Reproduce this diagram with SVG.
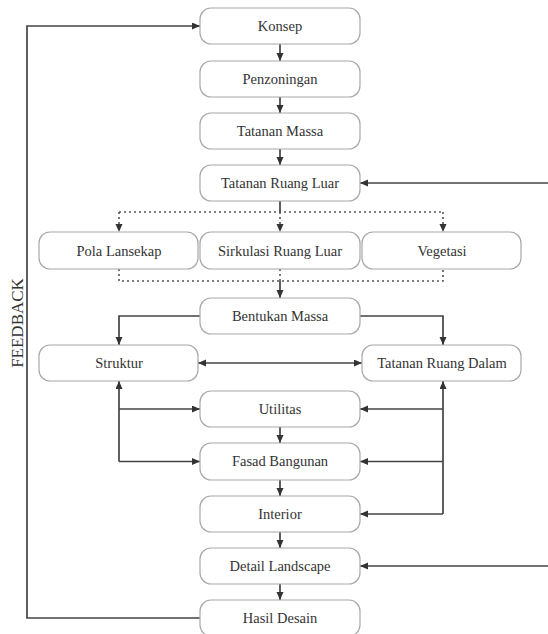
<svg xmlns="http://www.w3.org/2000/svg" width="548" height="634" viewBox="0 0 548 634">
<style>
.box{fill:#fff;stroke:#a8a8a8;stroke-width:1.2}
.lbl{font-family:"Liberation Serif","Times New Roman",serif;font-size:14.5px;fill:#333;text-anchor:middle}
.ln{fill:none;stroke:#444;stroke-width:1.7}
.dt{fill:none;stroke:#555;stroke-width:1.6;stroke-dasharray:2 3}
</style>
<defs>
<marker id="ah" markerUnits="userSpaceOnUse" markerWidth="9" markerHeight="8" refX="8" refY="3.5" orient="auto-start-reverse">
<path d="M0,0 L8,3.5 L0,7 z" fill="#333"/>
</marker>
</defs>
<rect width="548" height="634" fill="#fff"/>
<g id="connectors">
<path class="ln" d="M280,44 V61" marker-end="url(#ah)"/>
<path class="ln" d="M280,97 V113" marker-end="url(#ah)"/>
<path class="ln" d="M280,149 V165" marker-end="url(#ah)"/>
<path class="ln" d="M280,201 V212"/>
<path class="dt" d="M119,212 H443"/>
<path class="dt" d="M119,212 V232" marker-end="url(#ah)"/>
<path class="dt" d="M280,212 V232" marker-end="url(#ah)"/>
<path class="dt" d="M443,212 V232" marker-end="url(#ah)"/>
<path class="dt" d="M119,269 V281 H443 V269"/>
<path class="dt" d="M280,269 V281"/>
<path class="ln" d="M280,281 V298" marker-end="url(#ah)"/>
<path class="ln" d="M200,316 H119 V345" marker-end="url(#ah)"/>
<path class="ln" d="M360,316 H443 V345" marker-end="url(#ah)"/>
<path class="ln" d="M198,363 H362" marker-start="url(#ah)" marker-end="url(#ah)"/>
<path class="ln" d="M119,461.5 V381" marker-end="url(#ah)"/>
<path class="ln" d="M119,409 H200" marker-end="url(#ah)"/>
<path class="ln" d="M119,461.5 H200" marker-end="url(#ah)"/>
<path class="ln" d="M443,514 V381" marker-end="url(#ah)"/>
<path class="ln" d="M443,409 H360" marker-end="url(#ah)"/>
<path class="ln" d="M443,461.5 H360" marker-end="url(#ah)"/>
<path class="ln" d="M443,514 H360" marker-end="url(#ah)"/>
<path class="ln" d="M280,427 V443" marker-end="url(#ah)"/>
<path class="ln" d="M280,480 V496" marker-end="url(#ah)"/>
<path class="ln" d="M280,532 V548" marker-end="url(#ah)"/>
<path class="ln" d="M280,584 V600" marker-end="url(#ah)"/>
<path class="ln" d="M548,183 H360" marker-end="url(#ah)"/>
<path class="ln" d="M548,566 H360" marker-end="url(#ah)"/>
<path class="ln" d="M200,618 H27 V26 H200" marker-end="url(#ah)"/>
<text x="23" y="323" transform="rotate(-90 23 323)" style="font-family:'Liberation Serif','Times New Roman',serif;font-size:17px;fill:#333;text-anchor:middle">FEEDBACK</text>
</g>
<g id="konsep"><rect class="box" x="200" y="8" width="160" height="36" rx="11"/><text class="lbl" x="280" y="31">Konsep</text></g>
<g id="penzoningan"><rect class="box" x="200" y="61" width="160" height="36" rx="11"/><text class="lbl" x="280" y="84">Penzoningan</text></g>
<g id="tatanan-massa"><rect class="box" x="200" y="113" width="160" height="36" rx="11"/><text class="lbl" x="280" y="136">Tatanan Massa</text></g>
<g id="tatanan-ruang-luar"><rect class="box" x="200" y="165" width="160" height="36" rx="11"/><text class="lbl" x="280" y="188">Tatanan Ruang Luar</text></g>
<g id="pola-lansekap"><rect class="box" x="39" y="232" width="159" height="37" rx="11"/><text class="lbl" x="119" y="256">Pola Lansekap</text></g>
<g id="sirkulasi"><rect class="box" x="200" y="232" width="160" height="37" rx="11"/><text class="lbl" x="280" y="256">Sirkulasi Ruang Luar</text></g>
<g id="vegetasi"><rect class="box" x="362" y="232" width="159" height="37" rx="11"/><text class="lbl" x="442" y="256">Vegetasi</text></g>
<g id="bentukan-massa"><rect class="box" x="200" y="298" width="160" height="36" rx="11"/><text class="lbl" x="280" y="321">Bentukan Massa</text></g>
<g id="struktur"><rect class="box" x="39" y="345" width="159" height="36" rx="11"/><text class="lbl" x="119" y="368">Struktur</text></g>
<g id="tatanan-ruang-dalam"><rect class="box" x="362" y="345" width="159" height="36" rx="11"/><text class="lbl" x="442" y="368">Tatanan Ruang Dalam</text></g>
<g id="utilitas"><rect class="box" x="200" y="391" width="160" height="36" rx="11"/><text class="lbl" x="280" y="414">Utilitas</text></g>
<g id="fasad"><rect class="box" x="200" y="443" width="160" height="37" rx="11"/><text class="lbl" x="280" y="466">Fasad Bangunan</text></g>
<g id="interior"><rect class="box" x="200" y="496" width="160" height="36" rx="11"/><text class="lbl" x="280" y="519">Interior</text></g>
<g id="detail-landscape"><rect class="box" x="200" y="548" width="160" height="36" rx="11"/><text class="lbl" x="280" y="571">Detail Landscape</text></g>
<g id="hasil-desain"><rect class="box" x="200" y="600" width="160" height="36" rx="11"/><text class="lbl" x="280" y="623">Hasil Desain</text></g>
</svg>
